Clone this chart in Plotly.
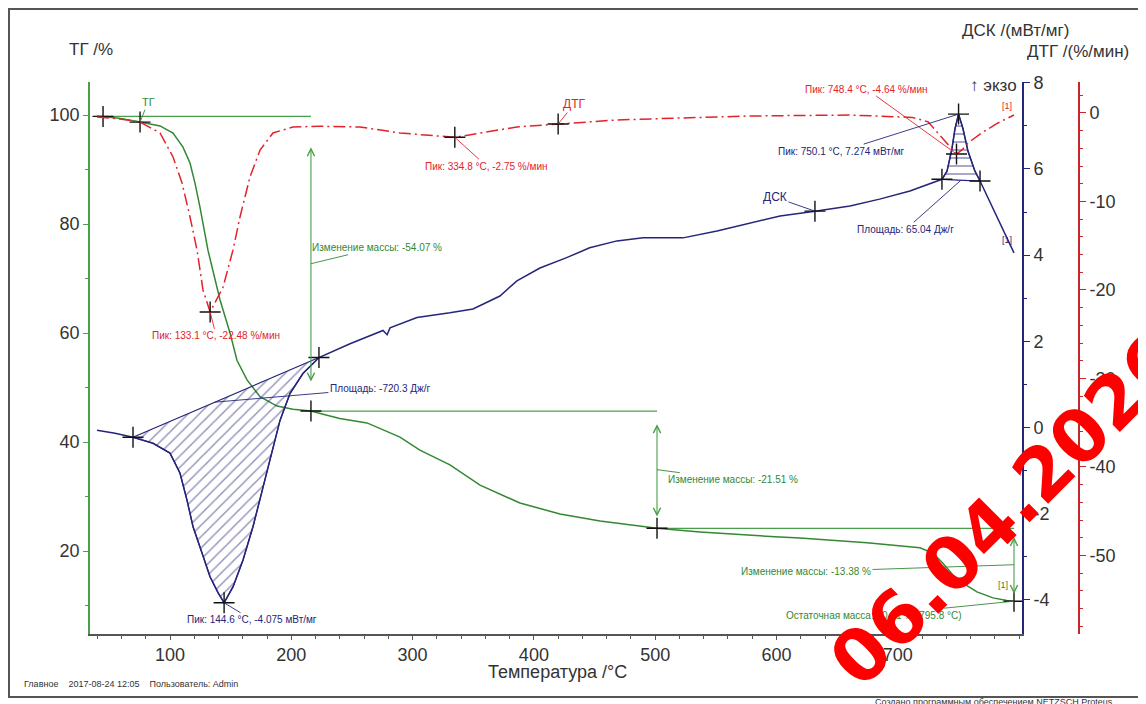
import plotly.graph_objects as go

W, H = 1146, 704
OFF = 8  # page body margin offset
ML, MR, MT, MB = 90 - OFF, 75, 82 - OFF, 78
PW, PH = W - ML - MR, H - MT - MB

GREEN = "#338833"
GREEN_AX = "#4a9f4a"
NAVY = "#25257a"
RED = "#e3232b"
RED_AX = "#c4262c"
TXT = "#333333"

# ---------------- data ----------------
tg_T = [39.8, 42.3, 44.8, 58.0, 75.3, 91.8, 102.5, 110.7, 116.5, 120.6, 124.7, 128.9, 131.3,
        141.2, 149.5, 155.2, 163.5, 174.2, 188.2, 201.4, 216.2, 229.4, 240.0, 262.4, 289.6,
        306.0, 330.8, 355.6, 388.5, 421.5, 454.5, 501.5, 537.0, 598.8, 619.4, 674.6, 718.3,
        729.0, 737.0, 745.5, 753.7, 765.3, 778.5, 790.0, 795.8]
tg_v = [99.8, 99.75, 99.75, 99.4, 98.7, 98.0, 96.7, 94.1, 91.2, 87.5, 83.1, 78.3, 75.2,
        66.1, 60.0, 55.0, 51.4, 48.3, 46.6, 46.0, 45.68, 44.9, 44.3, 43.5, 40.9,
        38.5, 35.8, 32.1, 28.8, 26.8, 25.5, 24.17, 23.5, 22.6, 22.4, 21.5, 20.6,
        19.6, 17.8, 15.6, 14.1, 12.5, 11.4, 10.9, 10.79]

dsc_T = [39.8, 54.7, 69.5, 86.0, 100.0, 108.2, 114.0, 119.0, 126.4, 133.0, 139.6, 144.6,
         152.0, 160.2, 168.4, 176.7, 184.0, 190.7, 199.0, 209.6, 222.8, 248.4, 275.6, 279.0,
         281.4, 303.6, 330.8, 349.8, 372.0, 386.0, 405.0, 427.0, 446.0, 468.5, 490.0, 523.0,
         551.0, 578.0, 603.0, 631.7, 660.6, 685.0, 710.0, 736.4, 740.6, 744.7, 747.2, 750.1,
         753.7, 757.9, 763.6, 767.8, 778.5, 788.4, 795.8]
dsc_v = [-0.07, -0.14, -0.23, -0.37, -0.6, -1.06, -1.69, -2.31, -2.92, -3.47, -3.84, -4.075,
         -3.70, -3.08, -2.31, -1.39, -0.60, 0.16, 0.79, 1.25, 1.62, 1.94, 2.25, 2.15,
         2.31, 2.55, 2.66, 2.75, 3.05, 3.40, 3.70, 3.94, 4.17, 4.33, 4.40, 4.40,
         4.56, 4.75, 4.91, 5.02, 5.14, 5.30, 5.49, 5.76, 5.95, 6.48, 6.94, 7.274,
         6.94, 6.41, 5.95, 5.72, 5.09, 4.49, 4.05]

dtg_T = [39.8, 58.8, 75.3, 91.8, 102.5, 109.9, 116.5, 122.3, 127.2, 133.1, 143.7, 151.9,
         157.7, 166.0, 174.2, 184.9, 201.4, 223.7, 256.6, 289.6, 334.8, 386.0, 420.0,
         468.5, 522.9, 578.2, 660.6, 712.0, 725.0, 734.8, 743.0, 748.4, 752.9, 757.9,
         770.2, 782.6, 792.5, 795.8]
dtg_v = [-0.45, -0.68, -1.02, -2.26, -4.97, -7.9, -11.75, -15.5, -20.0, -22.48, -19.7, -15.5,
         -11.75, -7.2, -4.2, -2.26, -1.58, -1.5, -1.58, -2.26, -2.75, -1.58, -1.25,
         -0.79, -0.56, -0.34, -0.23, -0.5, -1.0, -2.49, -3.84, -4.64, -4.18, -3.39,
         -2.15, -1.13, -0.45, -0.23]

tg_mark_T = [44.8, 75.3, 216.2, 501.5, 795.8]
tg_mark_v = [99.75, 98.7, 45.68, 24.17, 10.79]
dsc_mark_T = [69.5, 222.8, 144.6, 631.7, 736.4, 750.1, 767.8]
dsc_mark_v = [-0.23, 1.62, -4.075, 5.02, 5.76, 7.274, 5.72]
dtg_mark_T = [133.1, 334.8, 420.0, 748.4]
dtg_mark_v = [-22.48, -2.75, -1.25, -4.64]

# mass-step evaluation levels
step_T = [44.8, 216.2, 501.5, 795.8]
step_level = [99.75, 45.68, 24.17, 10.79]
endo_range = [69.5, 222.8]
exo_range = [736.4, 767.8]

x_ticks = [100, 200, 300, 400, 500, 600, 700]
x_minor = [40, 60, 80, 120, 140, 160, 180, 220, 240, 260, 280, 320, 340, 360, 380, 420, 440,
           460, 480, 520, 540, 560, 580, 620, 640, 660, 680, 720, 740, 760, 780, 800]
tg_ticks = [20, 40, 60, 80, 100]
tg_minor = [10, 30, 50, 70, 90]
dsc_ticks = [-4, -2, 0, 2, 4, 6, 8]
dsc_minor = [-3, -1, 1, 3, 5, 7]
dtg_ticks = [-50, -40, -30, -20, -10, 0]
dtg_minor = [v for v in range(-58, 4, 2) if v % 10 != 0]

X_RANGE = [34.05, 802.4]
TG_RANGE = [4.77, 106.06]
DSC_RANGE = [-4.8, 8.02]
DTG_RANGE = [-58.87, 3.5]
XD = (1022 - 90) / PW


def pp(px, py):
    """page pixel -> paper coords"""
    return (px - OFF - ML) / PW, (H - MB - (py - OFF)) / PH


fig = go.Figure()

# hatched areas (DSC)
endo_T = [t for t in dsc_T if endo_range[0] <= t <= endo_range[1]]
endo_v = [v for t, v in zip(dsc_T, dsc_v) if endo_range[0] <= t <= endo_range[1]]
exo_T = [t for t in dsc_T if exo_range[0] <= t <= exo_range[1]]
exo_v = [v for t, v in zip(dsc_T, dsc_v) if exo_range[0] <= t <= exo_range[1]]

fig.add_trace(go.Scatter(x=endo_T + [endo_T[0]], y=endo_v + [endo_v[0]], yaxis="y2",
                         mode="lines", fill="toself", line=dict(color=NAVY, width=1.2),
                         fillcolor="rgba(255,255,255,0)",
                         fillpattern=dict(shape="/", fgcolor=NAVY, bgcolor="rgba(255,255,255,0)",
                                          size=8, solidity=0.18),
                         hoverinfo="skip", showlegend=False))
fig.add_trace(go.Scatter(x=exo_T + [exo_T[0]], y=exo_v + [exo_v[0]], yaxis="y2",
                         mode="lines", fill="toself", line=dict(color=NAVY, width=1.2),
                         fillcolor="rgba(255,255,255,0)",
                         fillpattern=dict(shape="-", fgcolor=NAVY, bgcolor="rgba(255,255,255,0)",
                                          size=8, solidity=0.2),
                         hoverinfo="skip", showlegend=False))

# mass step level lines
for i in range(len(step_T) - 1):
    fig.add_trace(go.Scatter(x=[step_T[i], step_T[i + 1]], y=[step_level[i], step_level[i]],
                             mode="lines", line=dict(color=GREEN_AX, width=1.3),
                             hoverinfo="skip", showlegend=False))

# curves
fig.add_trace(go.Scatter(x=tg_T, y=tg_v, mode="lines", line=dict(color=GREEN, width=1.5),
                         name="ТГ", showlegend=False))
fig.add_trace(go.Scatter(x=dsc_T, y=dsc_v, yaxis="y2", mode="lines",
                         line=dict(color=NAVY, width=1.5), name="ДСК", showlegend=False))
fig.add_trace(go.Scatter(x=dtg_T, y=dtg_v, yaxis="y3", mode="lines",
                         line=dict(color=RED, width=1.5, dash="12px,4px,2px,4px"),
                         name="ДТГ", showlegend=False))

# markers
mk = dict(symbol="cross-thin", size=15, line=dict(color="#111111", width=1.4))
fig.add_trace(go.Scatter(x=tg_mark_T, y=tg_mark_v, mode="markers", marker=mk,
                         hoverinfo="skip", showlegend=False))
fig.add_trace(go.Scatter(x=dsc_mark_T, y=dsc_mark_v, yaxis="y2", mode="markers", marker=mk,
                         hoverinfo="skip", showlegend=False))
fig.add_trace(go.Scatter(x=dtg_mark_T, y=dtg_mark_v, yaxis="y3", mode="markers", marker=mk,
                         hoverinfo="skip", showlegend=False))

ann = []

# double arrows for mass changes
for i in range(len(step_T) - 1):
    top, bot = step_level[i], step_level[i + 1]
    inset = 0.1 * (top - bot)
    xa = step_T[i + 1]
    ann.append(dict(x=xa, y=bot + inset, ax=xa, ay=top - inset, xref="x", yref="y",
                    axref="x", ayref="y", text="", showarrow=True, arrowhead=5,
                    arrowside="end+start", arrowsize=1.3, arrowwidth=1.1, arrowcolor=GREEN_AX))


def leader(text, x, y, yref, ax, ay, color, size=10):
    ann.append(dict(x=x, y=y, xref="x", yref=yref, ax=ax, ay=ay, text=text, showarrow=True,
                    arrowhead=0, arrowwidth=0.9, arrowcolor=color, standoff=0,
                    font=dict(family="Liberation Sans, Arial, sans-serif", size=size, color=color)))


leader("ТГ", tg_mark_T[1], tg_mark_v[1], "y", 8, -20, GREEN, 11)
leader("ДТГ", dtg_mark_T[2], dtg_mark_v[2], "y3", 16, -20, RED, 12)
leader("ДСК", dsc_mark_T[3], dsc_mark_v[3], "y2", -40, -14, NAVY, 12)
leader("Пик: 133.1 °С, -22.48 %/мин", dtg_mark_T[0], dtg_mark_v[0], "y3", 6, 24, RED)
leader("Пик: 334.8 °С, -2.75 %/мин", dtg_mark_T[1], dtg_mark_v[1], "y3", 32, 29, RED)
leader("Пик: 748.4 °С, -4.64 %/мин", dtg_mark_T[3], dtg_mark_v[3], "y3", -90, -65, RED)
leader("Пик: 750.1 °С, 7.274 мВт/мг", dsc_mark_T[5], dsc_mark_v[5], "y2", -117, 37, NAVY)
leader("Площадь: 65.04 Дж/г", (dsc_mark_T[4] + dsc_mark_T[6]) / 2,
       (dsc_mark_v[4] + dsc_mark_v[6]) / 2, "y2", -55, 49, NAVY)
b_t = 137.0
b_v = endo_v[0] + (b_t - endo_T[0]) / (endo_T[-1] - endo_T[0]) * (endo_v[-1] - endo_v[0])
leader("Площадь: -720.3 Дж/г", b_t, b_v, "y2", 165, -14, NAVY)
leader("Пик: 144.6 °С, -4.075 мВт/мг", dsc_mark_T[2], dsc_mark_v[2], "y2", 28, 17, NAVY)
leader("Изменение массы: -54.07 %", step_T[1], (step_level[0] + step_level[1]) / 2, "y", 66, -16, GREEN)
leader("Изменение массы: -21.51 %", step_T[2], (step_level[1] + step_level[2]) / 2, "y", 76, 10, GREEN)
leader("Изменение массы: -13.38 %", step_T[3], (step_level[2] + step_level[3]) / 2, "y", -208, 7, GREEN)
leader("Остаточная масса: 10.61 % (795.8 °С)", step_T[3], step_level[3], "y", -140, 14, GREEN)


def ptext(text, px, py, size, color=TXT, xanchor="center", family="Liberation Sans, Arial, sans-serif",
          angle=0):
    x, y = pp(px, py)
    ann.append(dict(x=x, y=y, xref="paper", yref="paper", text=text, showarrow=False,
                    xanchor=xanchor, yanchor="middle", textangle=angle,
                    font=dict(family=family, size=size, color=color)))


ptext("ТГ /%", 91, 50, 17)
ptext("ДСК /(мВт/мг)", 1015, 30, 17)
ptext("ДТГ /(%/мин)", 1078, 51, 17)
ptext("↑ экзо", 993, 85, 17)
ptext("Температура /°С", 557, 672, 18)
ptext("[1]", 1007, 106, 9, RED)
ptext("[1]", 1007, 240, 9, NAVY)
ptext("[1]", 1003, 585, 9, GREEN)
ptext("Главное    2017-08-24 12:05    Пользователь: Admin", 22, 684, 9, TXT, "left")
ptext("Создано программным обеспечением NETZSCH Proteus", 873, 702, 9, TXT, "left")
ptext("<b>06.04.2026</b>", 1006, 509, 73, "#ff0000", "center", "DejaVu Sans", -45)

bx0, by0 = pp(9, 697)
bx1, by1 = pp(1160, 9)

tickfont = dict(family="Liberation Sans, Arial, sans-serif", size=18, color=TXT)

fig.update_layout(
    width=W, height=H, autosize=False,
    margin=dict(l=ML, r=MR, t=MT, b=MB, pad=0),
    paper_bgcolor="white", plot_bgcolor="white",
    showlegend=False,
    annotations=ann,
    shapes=[dict(type="rect", xref="paper", yref="paper", x0=bx0, y0=by0, x1=bx1, y1=by1,
                 line=dict(color="#555555", width=2), layer="below")],
    xaxis=dict(domain=[0, XD], range=X_RANGE, showline=True, linecolor="#555555", linewidth=1.6,
               ticks="outside", ticklen=4, tickcolor="#555555", tickmode="array",
               tickvals=x_ticks, ticktext=[str(v) for v in x_ticks],
               minor=dict(tickmode="array", tickvals=x_minor, ticks="outside", ticklen=3,
                          tickcolor="#555555"),
               showgrid=False, zeroline=False, tickfont=tickfont),
    yaxis=dict(range=TG_RANGE, side="left", anchor="x", showline=True, linecolor=GREEN_AX,
               linewidth=1.6, ticks="outside", ticklen=5, tickcolor=GREEN_AX, tickmode="array",
               tickvals=tg_ticks, ticktext=[str(v) for v in tg_ticks],
               minor=dict(tickmode="array", tickvals=tg_minor, ticks="outside", ticklen=3,
                          tickcolor=GREEN_AX),
               showgrid=False, zeroline=False, tickfont=tickfont),
    yaxis2=dict(range=DSC_RANGE, side="right", anchor="x", overlaying="y", showline=True,
                linecolor=NAVY, linewidth=1.6, ticks="outside", ticklen=6, tickcolor=NAVY,
                tickmode="array", tickvals=dsc_ticks, ticktext=[str(v) for v in dsc_ticks],
                minor=dict(tickmode="array", tickvals=dsc_minor, ticks="outside", ticklen=3,
                           tickcolor=NAVY),
                showgrid=False, zeroline=False, tickfont=tickfont),
    yaxis3=dict(range=DTG_RANGE, side="right", anchor="free", position=1.0, overlaying="y",
                showline=True, linecolor=RED_AX, linewidth=1.6, ticks="outside", ticklen=6,
                tickcolor=RED_AX, tickmode="array", tickvals=dtg_ticks,
                ticktext=[str(v) for v in dtg_ticks],
                minor=dict(tickmode="array", tickvals=dtg_minor, ticks="outside", ticklen=3,
                           tickcolor=RED_AX),
                showgrid=False, zeroline=False, tickfont=tickfont),
)

fig.write_html("out.html")
